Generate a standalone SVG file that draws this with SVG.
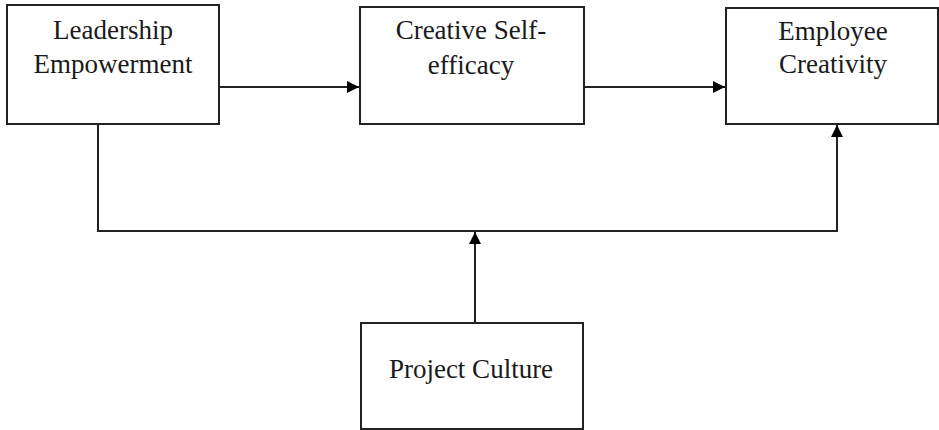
<svg xmlns="http://www.w3.org/2000/svg" width="939" height="430" viewBox="0 0 939 430">
<style>
.box{fill:#fff;stroke:#222;stroke-width:2}
.lbl{font-family:"Liberation Serif","Times New Roman",serif;font-size:27px;fill:#1a1a1a;text-anchor:middle}
.ln{fill:none;stroke:#222;stroke-width:2}
</style>
<defs>
<marker id="ah" viewBox="0 0 10 10" refX="10" refY="5" markerWidth="14" markerHeight="12" markerUnits="userSpaceOnUse" orient="auto">
<path d="M0,0 L10,5 L0,10 z" fill="#000"/>
</marker>
</defs>
<rect width="939" height="430" fill="#fff"/>
<g id="n1">
<rect class="box" x="7" y="5" width="212" height="119"/>
<text class="lbl" x="113" y="39">Leadership</text>
<text class="lbl" x="113" y="73">Empowerment</text>
</g>
<g id="n2">
<rect class="box" x="360" y="7" width="224" height="117"/>
<text class="lbl" x="471" y="39">Creative Self-</text>
<text class="lbl" x="471" y="74">efficacy</text>
</g>
<g id="n3">
<rect class="box" x="726" y="8" width="212" height="116"/>
<text class="lbl" x="833" y="40">Employee</text>
<text class="lbl" x="833" y="73">Creativity</text>
</g>
<g id="n4">
<rect class="box" x="361" y="323" width="222" height="106"/>
<text class="lbl" x="471" y="378">Project Culture</text>
</g>
<g id="connectors">
<line class="ln" x1="219" y1="87" x2="359" y2="87" marker-end="url(#ah)"/>
<line class="ln" x1="584" y1="87" x2="725" y2="87" marker-end="url(#ah)"/>
<polyline class="ln" points="98,124 98,231 837,231 837,125" marker-end="url(#ah)"/>
<line class="ln" x1="475" y1="323" x2="475" y2="232" marker-end="url(#ah)"/>
</g>
</svg>
